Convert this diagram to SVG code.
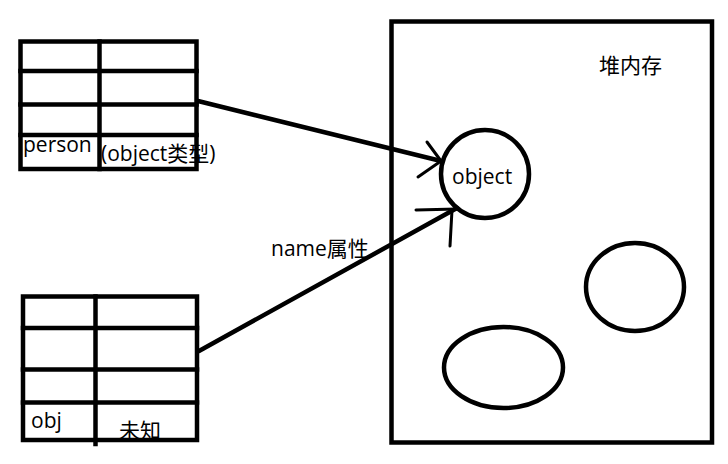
<svg xmlns="http://www.w3.org/2000/svg" width="728" height="464" viewBox="0 0 728 464">
<style>
.s{fill:none;stroke:#000;stroke-width:4.5;stroke-linecap:square}
.c{fill:none;stroke:#000;stroke-width:4.5}
.t{font-family:"Open Sans","Noto Sans","Noto Sans CJK SC",sans-serif;font-size:21px;fill:#000}
.a{fill:none;stroke:#000;stroke-width:4.5;stroke-linecap:round}
.b{fill:none;stroke:#000;stroke-width:3;stroke-linecap:round}
</style>
<rect width="728" height="464" fill="#fff"/>
<g id="person-table">
  <text class="t" x="23" y="152">person</text>
  <text class="t" x="101" y="161">(object类型)</text>
  <rect class="s" x="20.5" y="41.5" width="176" height="127.5"/>
  <line class="s" x1="99.5" y1="41.5" x2="99.5" y2="169"/>
  <line class="s" x1="20.5" y1="71" x2="196.5" y2="71"/>
  <line class="s" x1="20.5" y1="104.5" x2="196.5" y2="104.5"/>
  <line class="s" x1="20.5" y1="135" x2="196.5" y2="135"/>
</g>
<g id="obj-table">
  <text class="t" x="31" y="428">obj</text>
  <text class="t" x="119" y="438">未知</text>
  <rect class="s" x="23" y="296.5" width="174" height="143.5"/>
  <line class="s" x1="95.5" y1="296.5" x2="95.5" y2="444"/>
  <line class="s" x1="23" y1="328" x2="197" y2="328"/>
  <line class="s" x1="23" y1="369.5" x2="197" y2="369.5"/>
  <line class="s" x1="23" y1="402.5" x2="197" y2="402.5"/>
</g>
<g id="heap">
  <rect class="s" x="391.5" y="21.5" width="320.5" height="421"/>
  <text class="t" x="599" y="73">堆内存</text>
</g>
<g id="object-node">
  <circle class="c" cx="485" cy="174" r="44"/>
  <text class="t" x="452" y="184">object</text>
</g>
<g id="heap-object-2">
  <ellipse class="c" cx="635" cy="287" rx="49" ry="44"/>
</g>
<g id="heap-object-3">
  <ellipse class="c" cx="503.5" cy="367.5" rx="59.5" ry="40.5"/>
</g>
<g id="connectors">
  <line class="a" x1="198" y1="101" x2="441" y2="161"/>
  <line class="b" x1="427" y1="142" x2="441" y2="161"/>
  <line class="b" x1="418" y1="177" x2="441" y2="161"/>
  <line class="a" x1="199" y1="351" x2="457" y2="208"/>
  <line class="b" x1="416" y1="210" x2="457" y2="209"/>
  <line class="b" x1="450" y1="246" x2="452" y2="210"/>
  <text class="t" x="271" y="256">name属性</text>
</g>
</svg>
